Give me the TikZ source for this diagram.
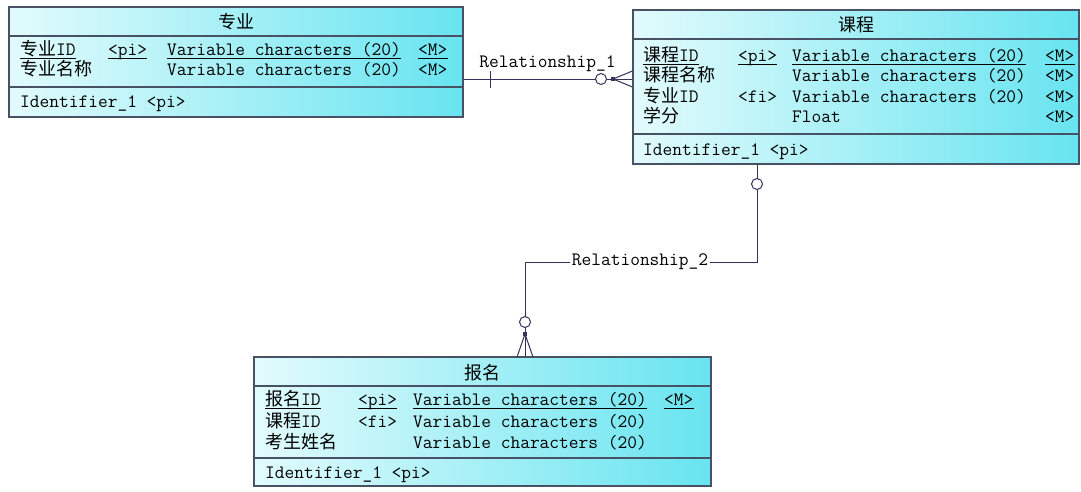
\documentclass[tikz,border=0pt]{standalone}
\usepackage{fontspec}
\newfontfamily\lat{Latin Modern Mono}
\newfontfamily\cjk{Noto Sans CJK SC}
\newcommand\zh[1]{{\cjk\fontsize{18}{20}\selectfont #1}}
\definecolor{cyanL}{RGB}{226,251,252}
\definecolor{cyanR}{RGB}{104,228,240}
\definecolor{edgec}{RGB}{72,82,100}
\definecolor{relc}{RGB}{50,50,92}
\tikzset{
  entity/.style={draw=edgec, line width=1.1pt, left color=cyanL, right color=cyanR, inner sep=0pt},
  sepline/.style={draw=edgec, line width=1.1pt},
  txt/.style={anchor=base west, inner sep=0pt, font=\lat\fontsize{18.9}{20}\selectfont},
  ttl/.style={anchor=base, inner sep=0pt},
  uline/.style={draw=black, line width=0.8pt},
  relline/.style={draw=relc, line width=1pt},
  rlabel/.style={inner sep=1.5pt, fill=white, font=\lat\fontsize{18.9}{20}\selectfont},
  ring/.style={draw=relc, line width=1pt, fill=white, circle, inner sep=0pt, minimum size=11pt},
  dotsq/.style={fill=relc, inner sep=0pt, minimum size=3.5pt}
}
\begin{document}
\begin{tikzpicture}[x=1pt,y=-1pt]
\useasboundingbox (0,0) rectangle (1081,491);
\fill[white] (0,0) rectangle (1081,491);

% ---------- Entity 1: 专业 ----------
\node[entity, minimum width=454pt, minimum height=110pt] (e1) at (236,62) {};
\draw[sepline] (e1.west |- 0,36) -- (e1.east |- 0,36);
\draw[sepline] (e1.west |- 0,87) -- (e1.east |- 0,87);
\node[ttl] (e1t) at (236,28) {\zh{专业}};
\node[txt] (e1a1) at (20,55) {\zh{专业}ID};
\node[txt] (e1a2) at (108,55) {<pi>};
\node[txt] (e1a3) at (167,55) {Variable characters (20)};
\node[txt] (e1a4) at (418,55) {<M>};
\node[txt] (e1b1) at (20,75) {\zh{专业名称}};
\node[txt] (e1b3) at (167,75) {Variable characters (20)};
\node[txt] (e1b4) at (418,75) {<M>};
\node[txt] (e1i) at (20,107) {Identifier\_1 <pi>};
\foreach \n in {e1a1,e1a2,e1a3,e1a4} \draw[uline] (\n.west |- 0,58.5) -- (\n.east |- 0,58.5);

% ---------- Entity 2: 课程 ----------
\node[entity, minimum width=446pt, minimum height=154pt] (e2) at (856,87) {};
\draw[sepline] (e2.west |- 0,39) -- (e2.east |- 0,39);
\draw[sepline] (e2.west |- 0,134) -- (e2.east |- 0,134);
\node[ttl] (e2t) at (856,31) {\zh{课程}};
\node[txt] (e2a1) at (643,61) {\zh{课程}ID};
\node[txt] (e2a2) at (738,61) {<pi>};
\node[txt] (e2a3) at (792,61) {Variable characters (20)};
\node[txt] (e2a4) at (1045,61) {<M>};
\node[txt] (e2b1) at (643,81.5) {\zh{课程名称}};
\node[txt] (e2b3) at (792,81.5) {Variable characters (20)};
\node[txt] (e2b4) at (1045,81.5) {<M>};
\node[txt] (e2c1) at (643,102) {\zh{专业}ID};
\node[txt] (e2c2) at (738,102) {<fi>};
\node[txt] (e2c3) at (792,102) {Variable characters (20)};
\node[txt] (e2c4) at (1045,102) {<M>};
\node[txt] (e2d1) at (643,122) {\zh{学分}};
\node[txt] (e2d3) at (792,122) {Float};
\node[txt] (e2d4) at (1045,122) {<M>};
\node[txt] (e2i) at (643,155) {Identifier\_1 <pi>};
\foreach \n in {e2a1,e2a2,e2a3,e2a4} \draw[uline] (\n.west |- 0,64.5) -- (\n.east |- 0,64.5);

% ---------- Entity 3: 报名 ----------
\node[entity, minimum width=457pt, minimum height=129pt] (e3) at (482.5,421.5) {};
\draw[sepline] (e3.west |- 0,386) -- (e3.east |- 0,386);
\draw[sepline] (e3.west |- 0,458) -- (e3.east |- 0,458);
\node[ttl] (e3t) at (482.5,379) {\zh{报名}};
\node[txt] (e3a1) at (265,405) {\zh{报名}ID};
\node[txt] (e3a2) at (358,405) {<pi>};
\node[txt] (e3a3) at (413,405) {Variable characters (20)};
\node[txt] (e3a4) at (664,405) {<M>};
\node[txt] (e3b1) at (265,427) {\zh{课程}ID};
\node[txt] (e3b2) at (358,427) {<fi>};
\node[txt] (e3b3) at (413,427) {Variable characters (20)};
\node[txt] (e3c1) at (265,448) {\zh{考生姓名}};
\node[txt] (e3c3) at (413,448) {Variable characters (20)};
\node[txt] (e3i) at (265,478) {Identifier\_1 <pi>};
\foreach \n in {e3a1,e3a2,e3a3,e3a4} \draw[uline] (\n.west |- 0,408.5) -- (\n.east |- 0,408.5);

% ---------- Relationship_1 ----------
\coordinate (r1) at (548,79);
\coordinate (r1v) at (613,79);
\draw[relline] (e1.east |- r1) -- (e2.west |- r1);
\draw[relline] (490,71) -- (490,88);
\draw[relline] (r1v) -- (e2.west |- 0,71);
\draw[relline] (r1v) -- (e2.west |- 0,87);
\node[ring] (c1) at (601,79) {};
\node[dotsq] (d1) at (r1v) {};
\node[font=\lat\fontsize{18.9}{20}\selectfont, inner sep=0pt] (l1) at (547.5,64) {Relationship\_1};

% ---------- Relationship_2 ----------
\coordinate (r2a) at (757,262);
\coordinate (r2b) at (525,262);
\coordinate (r2v) at (525,334);
\draw[relline] (e2.south -| r2a) -- (r2a) -- (r2b) -- (e3.north -| r2b);
\draw[relline] (r2v) -- (517,357);
\draw[relline] (r2v) -- (533,357);
\node[ring] (c2) at (757,184) {};
\node[ring] (c3) at (525,322) {};
\node[dotsq] (d2) at (r2v) {};
\node[rlabel] (l2) at (640,262) {Relationship\_2};
\end{tikzpicture}
\end{document}
